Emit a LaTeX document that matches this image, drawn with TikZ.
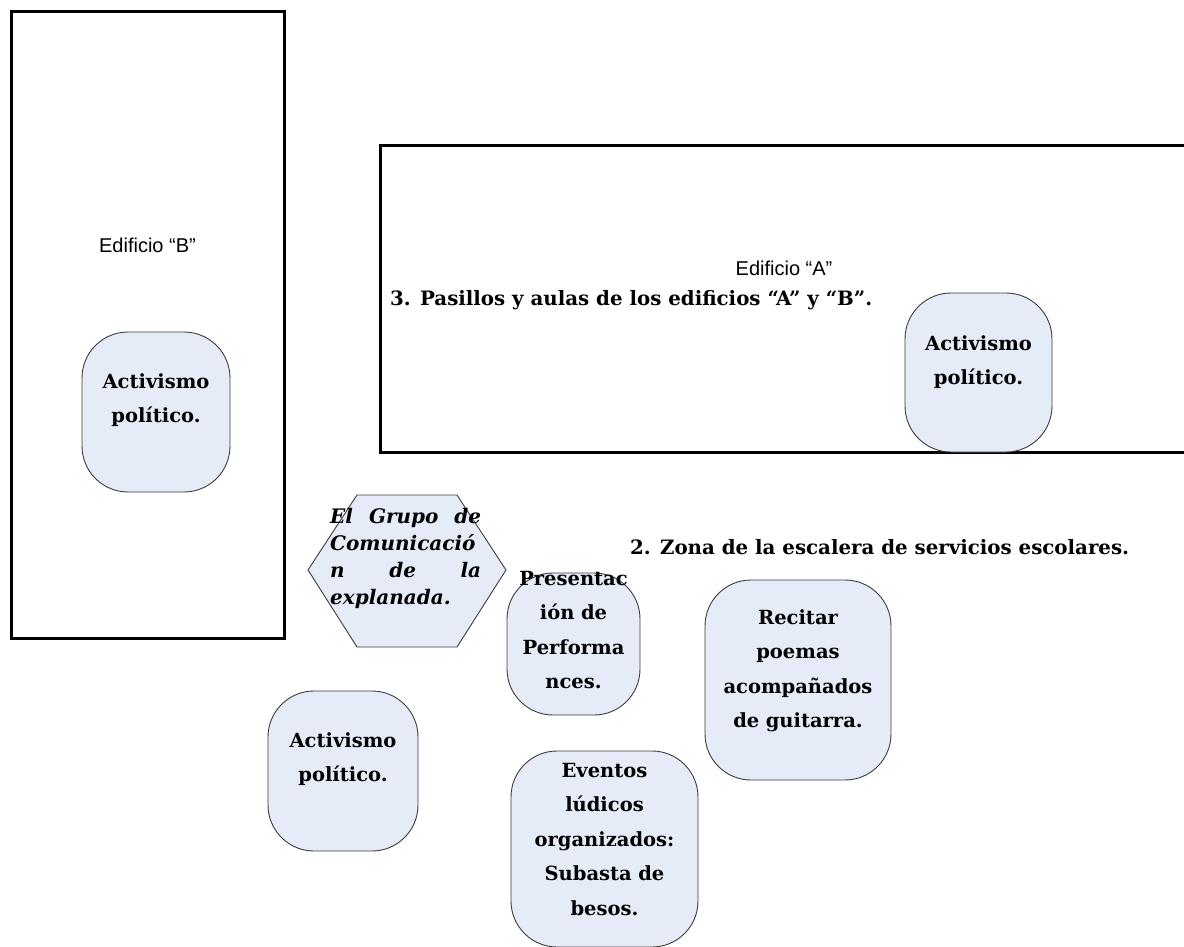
\documentclass[tikz,border=0pt]{standalone}
\usepackage{fontspec}
\setmainfont{DejaVu Serif}
\newfontfamily\labsans{Liberation Sans}
\definecolor{bubblefill}{RGB}{230,236,247}
\definecolor{bubbleline}{RGB}{60,60,60}
\tikzset{
  building/.style={draw=black, line width=3pt},
  bubble/.style={draw=bubbleline, fill=bubblefill, line width=0.9pt, rounded corners=46pt, inner sep=0pt},
  hexshape/.style={draw=bubbleline, fill=bubblefill, line width=0.9pt},
  bubtext/.style={font=\bfseries\fontsize{19.5}{34.5}\selectfont, align=center, inner sep=0pt, anchor=base},
  hextext/.style={font=\bfseries\itshape\fontsize{20}{27}\selectfont, align=left, inner sep=0pt, anchor=base west, text width=151pt},
  zonetext/.style={font=\bfseries\fontsize{19.8}{24}\selectfont, inner sep=0pt, anchor=base west},
  edlabel/.style={font=\labsans\fontsize{20}{24}\selectfont, inner sep=0pt, anchor=base}
}
\begin{document}
\begin{tikzpicture}[x=1pt,y=-1pt]
\useasboundingbox (0,0) rectangle (1184,947);
% buildings
\coordinate (bBnw) at (11,12);
\coordinate (bBse) at (284,638);
\draw[building] (bBnw) rectangle (bBse);
\coordinate (bAnw) at (380,146);
\coordinate (bAse) at (1200,452);
\draw[building] (bAnw) rectangle (bAse);
\node[edlabel] (edB) at (147.5,252) {Edificio “B”};
\node[edlabel] (edA) at (784,275) {Edificio “A”};
\node[zonetext] (zona3) at (390,305) {3. Pasillos y aulas de los edificios “A” y “B”.};
\node[zonetext] (zona2) at (630,554) {2. Zona de la escalera de servicios escolares.};
% bubbles
\node[bubble, minimum width=148pt, minimum height=160pt] (actB) at (156,412) {};
\node[bubtext, text width=148pt] (actBt) at (156,388) {Activismo\\político.};
\node[bubble, minimum width=147pt, minimum height=159pt] (actA) at (978.5,372.5) {};
\node[bubtext, text width=147pt] (actAt) at (978.5,350) {Activismo\\político.};
\node[bubble, minimum width=150pt, minimum height=160pt] (actC) at (343,771) {};
\node[bubtext, text width=150pt] (actCt) at (343,747) {Activismo\\político.};
\node[bubble, minimum width=133pt, minimum height=142pt] (pres) at (573.5,644) {};
\node[bubtext, text width=133pt] (prest) at (573.5,585) {Presentac\\ión de\\Performa\\nces.};
\node[bubble, minimum width=186pt, minimum height=200pt] (recit) at (798,680) {};
\node[bubtext, text width=186pt] (recitt) at (798,624) {Recitar\\poemas\\acompañados\\de guitarra.};
\node[bubble, minimum width=187pt, minimum height=196pt] (event) at (604.5,849) {};
\node[bubtext, text width=187pt] (eventt) at (604.5,777) {Eventos\\lúdicos\\organizados:\\ Subasta de\\besos.};
% hexagon
\coordinate (h1) at (308,570);
\coordinate (h2) at (357,495);
\coordinate (h3) at (457,495);
\coordinate (h4) at (506,570);
\coordinate (h5) at (457,647);
\coordinate (h6) at (357,647);
\draw[hexshape] (h1) -- (h2) -- (h3) -- (h4) -- (h5) -- (h6) -- cycle;
\node[hextext] (hext) at (330,523) {El\hfill Grupo\hfill de\\Comunicació\\n\hfill de\hfill la\\explanada.};
\end{tikzpicture}
\end{document}
